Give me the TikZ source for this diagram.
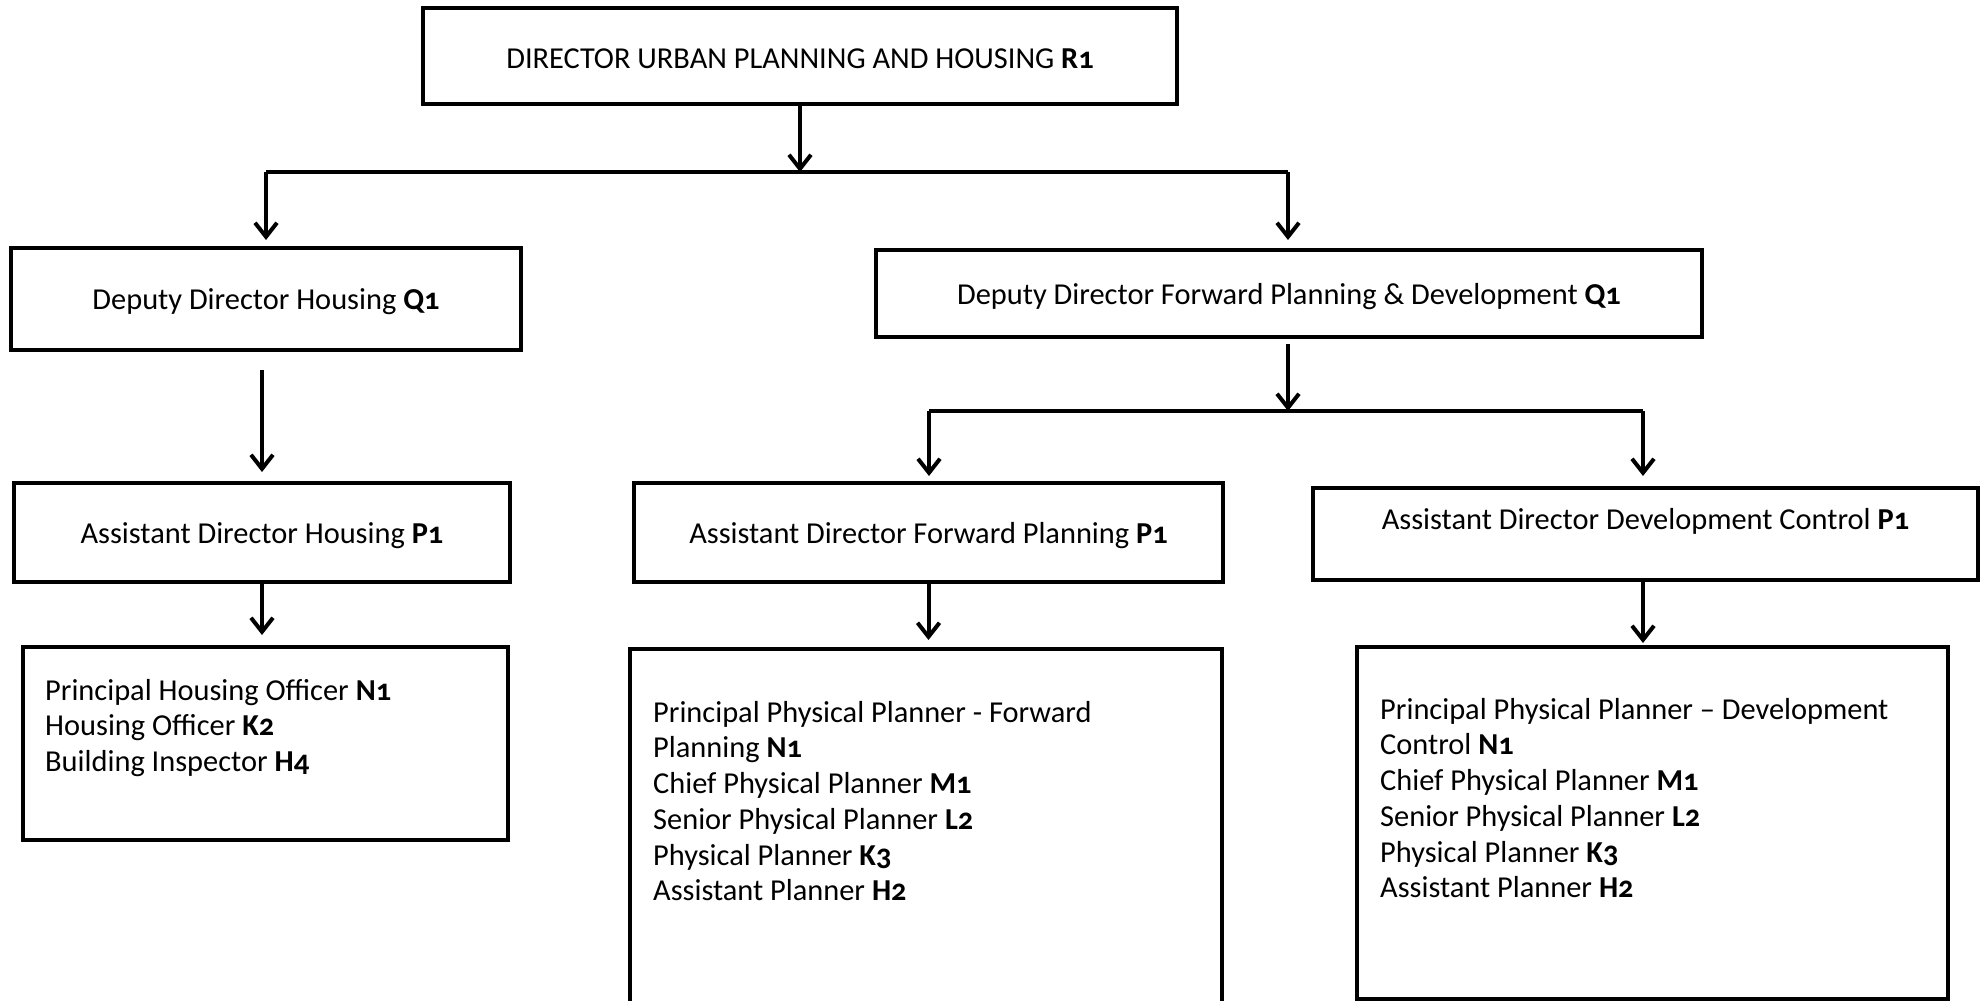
\documentclass[tikz,border=0pt]{standalone}
\usepackage{fontspec}
\setmainfont{Carlito}[Numbers=OldStyle]
\usetikzlibrary{arrows.meta}
\begin{document}
\begin{tikzpicture}[x=1pt,y=-1pt,
  box/.style={draw=black, line width=4pt, fill=white, rectangle, inner sep=0pt},
  lbl/.style={font=\fontsize{30.4}{36}\selectfont, inner sep=0pt, yshift=-3pt},
  lst/.style={font=\fontsize{30.4}{35.7}\selectfont, inner sep=0pt, align=left, anchor=north west},
  link/.style={line width=4pt},
  arr/.style={line width=4pt, -{Straight Barb[length=14pt,width=22pt,line width=4pt]}}
]
\useasboundingbox (0,0) rectangle (1981,1001);

% boxes
\node[box, minimum width=754, minimum height=96] (top) at (800,56) {};
\node[lbl] at (top.center) {DIRECTOR URBAN PLANNING AND HOUSING \textbf{R1}};

\node[box, minimum width=510, minimum height=102] (depH) at (266,299) {};
\node[lbl] at (depH.center) {Deputy Director Housing \textbf{Q1}};

\node[box, minimum width=826, minimum height=87] (depF) at (1289,293.5) {};
\node[lbl] at (depF.center) {Deputy Director Forward Planning \& Development \textbf{Q1}};

\node[box, minimum width=496, minimum height=99] (astH) at (262,532.5) {};
\node[lbl] at (astH.center) {Assistant Director Housing \textbf{P1}};

\node[box, minimum width=589, minimum height=99] (astF) at (928.5,532.5) {};
\node[lbl] at (astF.center) {Assistant Director Forward Planning \textbf{P1}};

\node[box, minimum width=665, minimum height=92] (astD) at (1645.5,534) {};
\node[lbl] at (1645.5,518) {Assistant Director Development Control \textbf{P1}};

\node[box, minimum width=485, minimum height=193] (lstH) at (265.5,743.5) {};
\node[lst] at (45,675) {\strut Principal Housing Officer \textbf{N1}\\
Housing Officer \textbf{K2}\\
Building Inspector \textbf{H4}};

\node[box, minimum width=592, minimum height=361] (lstF) at (926,829.5) {};
\node[lst] at (653,697) {\strut Principal Physical Planner - Forward\\
Planning \textbf{N1}\\
Chief Physical Planner \textbf{M1}\\
Senior Physical Planner \textbf{L2}\\
Physical Planner \textbf{K3}\\
Assistant Planner \textbf{H2}};

\node[box, minimum width=591, minimum height=352] (lstD) at (1652.5,823) {};
\node[lst] at (1380,694) {\strut Principal Physical Planner \textendash{} Development\\
Control \textbf{N1}\\
Chief Physical Planner \textbf{M1}\\
Senior Physical Planner \textbf{L2}\\
Physical Planner \textbf{K3}\\
Assistant Planner \textbf{H2}};

% junction points
\coordinate (j1) at (800,172);
\coordinate (j1l) at (266,172);
\coordinate (j1r) at (1288,172);
\coordinate (j2) at (1288,411);
\coordinate (j2l) at (929,411);
\coordinate (j2r) at (1643,411);

% connectors
\draw[arr] (top.south) -- (j1);
\draw[link] (j1l) -- (j1r);
\draw[arr, shorten >=6pt] (j1l) -- (j1l |- depH.north);
\draw[arr, shorten >=8pt] (j1r) -- (j1r |- depF.north);

\draw[arr, shorten <=18pt, shorten >=9pt] (astH.north |- depH.south) -- (astH.north);

\draw[arr, shorten <=5pt] (j2 |- depF.south) -- (j2);
\draw[link] (j2l) -- (j2r);
\draw[arr, shorten >=5pt] (j2l) -- (j2l |- astF.north);
\draw[arr, shorten >=10pt] (j2r) -- (j2r |- astD.north);

\draw[arr, shorten <=-1pt, shorten >=10pt] (astH.south) -- (astH.south |- lstH.north);
\draw[arr, shorten >=7pt] (astF.south) -- (astF.south |- lstF.north);
\draw[arr, shorten >=2pt] (j2r |- astD.south) -- (j2r |- lstD.north);
\end{tikzpicture}
\end{document}
